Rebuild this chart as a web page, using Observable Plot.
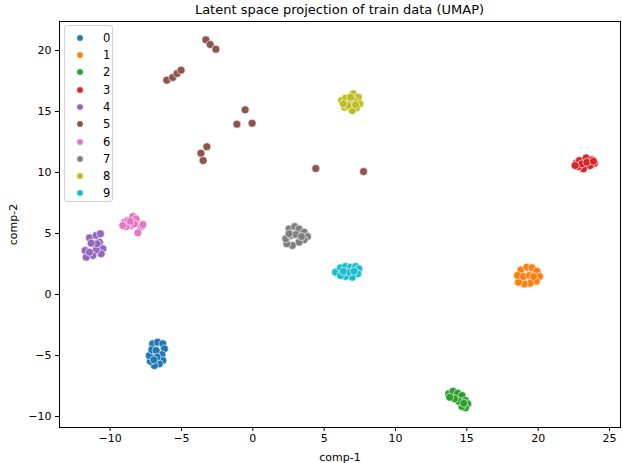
<!DOCTYPE html>
<html><head><meta charset="utf-8">
<script src="https://cdn.jsdelivr.net/npm/d3@7"></script>
<script src="https://cdn.jsdelivr.net/npm/@observablehq/plot@0.6"></script>
<style>
body{margin:0;background:#fff;font-family:"DejaVu Sans",sans-serif;}
#wrap{position:relative;width:623px;height:463px;}
#title{position:absolute;top:2px;left:59px;width:561px;text-align:center;font-size:13px;color:#000;line-height:16px;}
#legend{position:absolute;left:64px;top:25px;width:49px;height:177px;border:1px solid #d0d0d0;border-radius:3px;background:rgba(255,255,255,0.8);box-sizing:border-box;font-size:11.5px;color:#000;}
.row{position:absolute;left:0;height:16px;display:flex;align-items:center;}
.sw{width:8px;height:8px;border-radius:50%;margin-left:11px;box-sizing:border-box;border:0.6px solid #fff;}
.lab{margin-left:19px;}
</style></head>
<body><div id="wrap"><div id="title">Latent space projection of train data (UMAP)</div></div>
<script>
const classes = ["0","1","2","3","4","5","6","7","8","9"];
const colors = ["#1f77b4","#ff7f0e","#2ca02c","#d62728","#9467bd","#8c564b","#e377c2","#7f7f7f","#bcbd22","#17becf"];
const xTicks = [-10,-5,0,5,10,15,20,25];
const yTicks = [-10,-5,0,5,10,15,20];

const class0 = [[-7.02,-4.04],[-6.67,-3.91],[-6.31,-4.04],[-6.20,-4.45],[-6.38,-4.92],[-6.31,-5.41],[-6.55,-5.68],[-6.90,-5.82],[-7.18,-5.47],[-7.25,-5.00],[-7.08,-4.53],[-6.78,-4.59],[-6.71,-5.14],[-6.94,-5.35]];
const class1 = [[18.79,2.02],[19.21,2.24],[19.56,2.19],[19.91,1.91],[20.09,1.48],[19.86,1.09],[19.44,0.93],[19.02,0.87],[18.62,1.01],[18.55,1.56],[18.97,1.48],[19.39,1.56],[19.67,1.48]];
const class2 = [[13.73,-8.14],[14.03,-7.93],[14.36,-8.09],[14.66,-8.28],[14.90,-8.69],[15.06,-8.96],[14.90,-9.29],[14.66,-9.18],[14.43,-8.75],[14.13,-8.55],[13.80,-8.42],[14.78,-8.91]];
const class3 = [[22.66,10.76],[22.89,10.98],[23.36,11.20],[23.76,11.04],[23.94,10.76],[23.64,10.57],[23.17,10.30],[22.82,10.49],[23.06,10.71],[23.41,10.84],[22.59,10.57],[23.87,10.93]];
const class4 = [[-11.45,4.65],[-10.98,4.84],[-10.68,4.98],[-10.75,4.29],[-10.51,3.75],[-10.63,3.34],[-10.98,3.66],[-11.21,3.20],[-11.68,3.06],[-11.75,3.61],[-11.45,3.47],[-10.91,4.16],[-11.33,4.21]];
const class5 = [[-3.29,20.88],[-2.99,20.49],[-2.59,20.11],[-6.03,17.57],[-5.62,17.79],[-5.31,18.11],[-5.03,18.39],[-0.54,15.14],[-1.12,13.96],[-0.05,14.04],[-3.22,12.11],[-3.64,11.58],[-3.48,10.98],[4.41,10.33],[7.76,10.08]];
const class6 = [[-9.00,5.93],[-8.76,6.07],[-8.41,6.39],[-8.18,6.20],[-7.83,5.57],[-8.06,5.06],[-8.53,5.66],[-8.88,5.57],[-8.30,5.79],[-7.71,5.74],[-9.11,5.66],[-8.58,6.01]];
const class7 = [[2.54,5.38],[2.94,5.57],[3.24,5.38],[3.59,5.11],[3.83,4.75],[3.59,4.48],[3.24,4.29],[2.77,4.02],[2.38,4.16],[2.31,4.57],[2.66,4.84],[3.01,4.92],[3.41,4.75],[2.54,4.98]];
const class8 = [[6.22,15.90],[6.50,16.09],[7.04,16.45],[7.39,16.17],[7.50,15.63],[7.27,15.30],[6.97,15.08],[6.43,15.35],[6.81,15.76],[7.09,15.90],[6.67,15.49],[6.34,15.63],[7.20,15.55],[6.85,16.17]];
const class9 = [[5.80,1.83],[6.15,2.19],[6.50,2.30],[6.85,2.24],[7.20,2.30],[7.43,2.11],[7.36,1.70],[6.97,1.42],[6.50,1.48],[6.15,1.56],[6.74,1.83],[7.09,1.91],[6.34,1.91]];

const groups = [class0,class1,class2,class3,class4,class5,class6,class7,class8,class9];
const data = [];
const maxLen = d3.max(groups, g => g.length);
for (let i = 0; i < maxLen; i++) {
  groups.forEach((g, k) => { if (g[i]) data.push({x: g[i][0], y: g[i][1], cls: classes[k]}); });
}
const fmt = d => String(d).replace("-", "\u2212");

const chart = Plot.plot({
  width: 623, height: 463,
  marginTop: 21, marginBottom: 36, marginLeft: 59, marginRight: 3,
  style: {fontFamily: "DejaVu Sans", fontSize: "11px", color: "#000", background: "transparent"},
  x: {domain: [-13.55, 25.77]},
  y: {domain: [-10.9, 22.38]},
  color: {domain: classes, range: colors},
  marks: [
    Plot.axisX({ticks: xTicks, tickFormat: fmt, tickSize: 4, tickPadding: 3, label: "comp-1", labelAnchor: "center", labelArrow: "none"}),
    Plot.axisY({ticks: yTicks, tickFormat: fmt, tickSize: 4, tickPadding: 4, label: "comp-2", labelAnchor: "center", labelOffset: 50, labelArrow: "none"}),
    Plot.dot(data, {x: "x", y: "y", fill: "cls", r: 4, stroke: "white", strokeWidth: 0.6, fillOpacity: 1}),
    Plot.frame({stroke: "#000", strokeWidth: 1})
  ]
});
const wrap = document.getElementById("wrap");
chart.style.position = "absolute"; chart.style.left = "0"; chart.style.top = "0";
wrap.insertBefore(chart, wrap.firstChild);

const legend = document.createElement("div");
legend.id = "legend";
classes.forEach((c, i) => {
  const row = document.createElement("div");
  row.className = "row";
  row.style.top = (11.7 + i * 17.3 - 8) + "px";
  const sw = document.createElement("span"); sw.className = "sw"; sw.style.background = colors[i];
  const lab = document.createElement("span"); lab.className = "lab"; lab.textContent = c;
  row.appendChild(sw); row.appendChild(lab);
  legend.appendChild(row);
});
wrap.appendChild(legend);
</script>
</body></html>
